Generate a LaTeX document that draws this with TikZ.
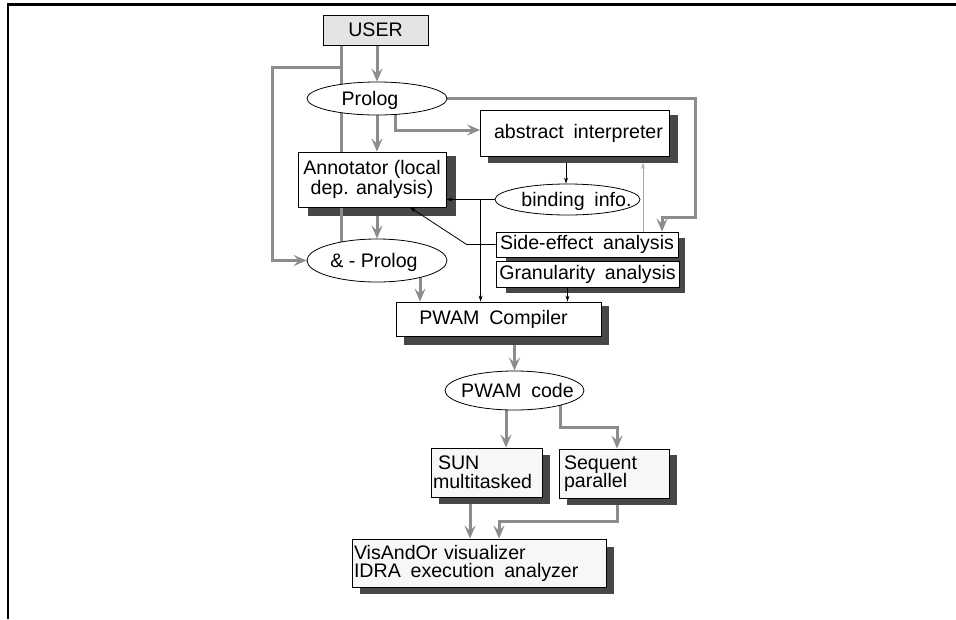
\documentclass[tikz,border=0pt]{standalone}
\usepackage{fontspec}
\setmainfont{Liberation Sans}
\usetikzlibrary{arrows.meta,calc,shapes.geometric}
\pgfdeclarelayer{shadowlayer}
\pgfdeclarelayer{connlayer}
\pgfsetlayers{shadowlayer,connlayer,main}
\definecolor{shd}{HTML}{474747}
\definecolor{garr}{HTML}{8C8C8C}
\definecolor{lgarr}{HTML}{A8A8A8}
\definecolor{userfill}{HTML}{E4E4E4}
\definecolor{lightbox}{HTML}{F7F7F7}
\newcommand{\zt}[2]{\raisebox{-0.36em}[0pt][0pt]{\makebox[0pt][l]{\hspace*{#1}\makebox[0pt]{#2}}}}
\newcommand{\wsp}{\hspace{0.5em}}
\newcommand{\shadowfor}[4]{\fill[shd] ($(#1.north west)+(#2,#3)$) rectangle ($(#1.south east)+(#2,#4)$);}
\begin{document}
\begin{tikzpicture}[x=1pt,y=-1pt,
  font=\fontsize{19.6}{22}\selectfont,
  box/.style={draw, line width=0.8pt, fill=white, rectangle, inner sep=0pt},
  ell/.style={draw, ellipse, line width=0.8pt, fill=white, inner sep=0pt},
  garrow/.style={draw=garr, line width=3pt, -{Stealth[length=13pt,width=11pt,inset=5pt]}},
  gline/.style={draw=garr, line width=3pt},
  barrow/.style={draw=black, line width=0.8pt, -{Stealth[length=6pt,width=4pt]}},
  lgarrow/.style={draw=lgarr, line width=0.8pt, -{Stealth[length=6pt,width=4pt]}}]
\useasboundingbox (0,0) rectangle (956,619);
% frame
\draw[line width=2.4pt] (7,4.3) -- (956,4.3);
\draw[line width=2.4pt] (7.8,3.1) -- (7.8,619);
% nodes
\node[box, fill=userfill, minimum width=105pt, minimum height=30pt] (user) at (375.5,30) {USER};
\node[ell, minimum width=140pt, minimum height=33pt] (prolog) at (377,98.5) {\zt{-7pt}{Prolog}};
\node[box, minimum width=189pt, minimum height=46pt] (abs) at (575,133.5) {\hspace*{7pt}abstract\wsp interpreter};
\node[box, minimum width=148pt, minimum height=55pt, align=center, font=\fontsize{19.6}{17.5}\selectfont] (ann) at (372,179.5) {Annotator (local\\dep. analysis)};
\node[ell, minimum width=145pt, minimum height=31pt] (bind) at (567.5,199.5) {\zt{9pt}{binding\wsp info.}};
\node[box, minimum width=182pt, minimum height=25pt] (side) at (587,244.5) {Side-effect\wsp analysis};
\node[box, minimum width=183pt, minimum height=26pt] (gran) at (587.5,274) {Granularity\wsp analysis};
\node[ell, minimum width=140pt, minimum height=43pt] (andp) at (377,260.5) {\zt{-3pt}{\& - Prolog}};
\node[box, minimum width=205pt, minimum height=34pt] (comp) at (498.5,319) {PWAM\wsp Compiler\hspace*{10pt}};
\node[ell, minimum width=139pt, minimum height=39pt] (code) at (514.5,390.5) {\zt{3pt}{PWAM\wsp code}};
\node[box, fill=lightbox, minimum width=111pt, minimum height=49pt, text width=107pt, inner xsep=2pt, align=left, font=\fontsize{19.6}{19}\selectfont] (sun) at (486.5,472.5) {\hspace*{5pt}SUN\\multitasked};
\node[box, fill=lightbox, minimum width=110pt, minimum height=49pt, text width=100pt, inner xsep=5pt, align=left, font=\fontsize{19.6}{18.5}\selectfont] (seq) at (614,473.5) {Sequent\\parallel};
\node[box, fill=lightbox, minimum width=254pt, minimum height=48pt, text width=250pt, inner xsep=2pt, align=left, font=\fontsize{19.6}{18}\selectfont] (vis) at (479,563) {VisAndOr visualizer\\IDRA\wsp execution\wsp analyzer};
% shadows
\begin{pgfonlayer}{shadowlayer}
\shadowfor{abs}{8}{5}{6}
\shadowfor{ann}{10}{4}{9}
\fill[shd] ($(side.north west)+(10,6)$) rectangle ($(gran.south east)+(6,6)$);
\shadowfor{comp}{8}{4}{9}
\shadowfor{sun}{8}{7}{7}
\shadowfor{seq}{8}{6}{7}
\shadowfor{vis}{8}{8}{7}
\end{pgfonlayer}
% connectors
\begin{pgfonlayer}{connlayer}
\draw[garrow] (prolog.north |- user.south) -- (prolog.north);
\coordinate (u1) at ($(user.south west)+(19,0)$);
\draw[gline] (u1) -- (u1 |- andp.center);
\draw[garrow] (u1) -- ($(u1)+(0,22)$) -| ($(andp.west)+(-34,0)$) -- (andp.west);
\draw[garrow] (prolog.south) -- (prolog.south |- ann.north);
\draw[garrow] ($(prolog.center)+(18,0)$) |- ($(abs.west)+(0,-3.5)$);
\draw[garrow] (prolog.east) -- ++(248,0) |- ($(side.north)+(75,-14)$) -- ($(side.north)+(75,0)$);
\draw[garrow] ($(ann.south)+(5,9)$) -- (andp.north);
\coordinate (a2) at ($(andp.center)+(43,0)$);
\draw[garrow] (a2) -- (a2 |- comp.north);
\draw[garrow] ($(comp.south)+(16,9)$) -- (code.north);
\coordinate (c1) at ($(code.center)+(-8.5,0)$);
\draw[garrow] (c1) -- (c1 |- sun.north);
\draw[garrow] ($(code.center)+(45.5,0)$) |- ($(seq.north)+(3,-21)$) -- ($(seq.north)+(3,0)$);
\draw[garrow] ($(sun.south)+(-16.5,7)$) -- ($(vis.north)+(-9,0)$);
\draw[garrow] ($(seq.south)+(3,7)$) |- ($(vis.north)+(20,-17)$) -- ($(vis.north)+(20,0)$);
% thin
\draw[barrow] ($(abs.south)+(-9,6)$) -- ($(bind.north)+(-1.5,0)$);
\draw[barrow] (bind.west) -- (bind.west -| ann.east);
\coordinate (b1) at ($(bind.west)+(-14,0)$);
\draw[barrow] (b1) -- (b1 |- comp.north);
\draw[barrow] (side.west) -- ++(-29,0) -- ($(ann.south)+(38,0)$);
\coordinate (g1) at ($(gran.south)+(-20,0)$);
\draw[barrow] (g1) -- (g1 |- comp.north);
\coordinate (s2) at ($(side.north)+(56,0)$);
\draw[lgarrow] (s2) -- ($(s2 |- abs.south)+(0,6)$);
\end{pgfonlayer}
\end{tikzpicture}
\end{document}
